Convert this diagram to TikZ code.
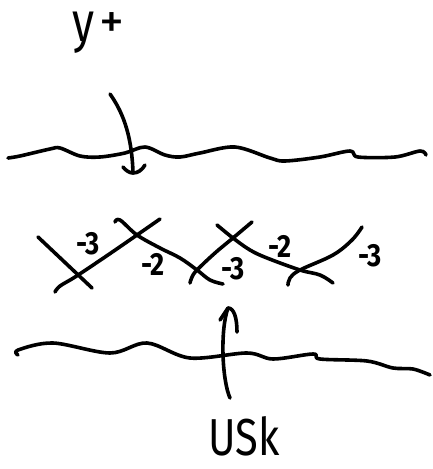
\documentclass[tikz,border=0pt]{standalone}
\usepackage{fontspec}
\setmainfont{Fira Sans}
\begin{document}
\begin{tikzpicture}[x=1pt,y=-1pt,
  ink/.style={line width=3.6pt,line cap=round,line join=round,black},
  bigtxt/.style={inner sep=0pt,font=\fontsize{52}{52}\selectfont,xscale=0.8},
  numtxt/.style={inner sep=0pt,font=\fontsize{32}{32}\selectfont\bfseries,xscale=0.85}]
\useasboundingbox (0,0) rectangle (433,469);
% labels
\node[inner sep=0pt,font=\fontsize{56}{56}\selectfont,xscale=0.8,anchor=base] (yt) at (84,41) {y};
\node[inner sep=0pt,font=\fontsize{50}{50}\selectfont,anchor=base] (ytp) at (112,38) {+};
\node[bigtxt,anchor=base] (usk) at (244,455) {USk};
% top wavy line
\draw[ink] plot[smooth,tension=0.55] coordinates {(8,158) (20,156) (50,149) (60,148) (80,156) (100,157) (125,153) (145,147) (165,155) (180,157) (200,153) (235,147) (270,158) (285,161) (320,157) (350,151) (358,157) (395,157) (420,151) (426,155)};
% bottom wavy line
\draw[ink] plot[smooth,tension=0.55] coordinates {(18,355) (18,350) (53,343) (110,353) (147,343) (190,358) (247,353) (273,359) (313,354) (320,359) (367,361) (393,368) (413,369) (430,375)};
% top arrow
\coordinate (ta0) at (110,94);
\coordinate (ta1) at (133,173);
\draw[ink] (ta0) .. controls (125,115) and (132,140) .. (ta1);
\draw[ink] (123,167) .. controls (126,171) and (130,173) .. (ta1) .. controls (138,173) and (142,170) .. (145,165);
% bottom arrow
\coordinate (ba0) at (230,398);
\coordinate (ba1) at (228,308);
\draw[ink] (ba0) .. controls (222,380) and (220,330) .. (ba1);
\draw[ink] (220,320) -- (ba1) .. controls (234,308) and (237,318) .. (237,332);
% zigzag strands
\draw[ink] (38,237) -- (92,288);
\draw[ink] plot[smooth,tension=0.6] coordinates {(55,292) (60,286) (75,277) (105,257) (137,235) (160,219)};
\draw[ink] plot[smooth,tension=0.6] coordinates {(115,222) (120,220) (137,235) (160,248) (180,258) (197,270) (210,280) (223,284)};
\draw[ink] plot[smooth,tension=0.6] coordinates {(190,283) (192,277) (197,270) (215,253) (233,238) (252,222)};
\draw[ink] plot[smooth,tension=0.6] coordinates {(217,225) (233,238) (250,250) (267,258) (300,270) (320,275) (333,283)};
\draw[ink] plot[smooth,tension=0.6] coordinates {(288,285) (290,278) (300,270) (333,255) (352,240) (362,227)};
% numbers
\node[numtxt] (n1) at (88,244) {-3};
\node[numtxt] (n2) at (153,264) {-2};
\node[numtxt] (n3) at (233,269) {-3};
\node[numtxt] (n4) at (280,246) {-2};
\node[numtxt] (n5) at (370,256) {-3};
\end{tikzpicture}
\end{document}
